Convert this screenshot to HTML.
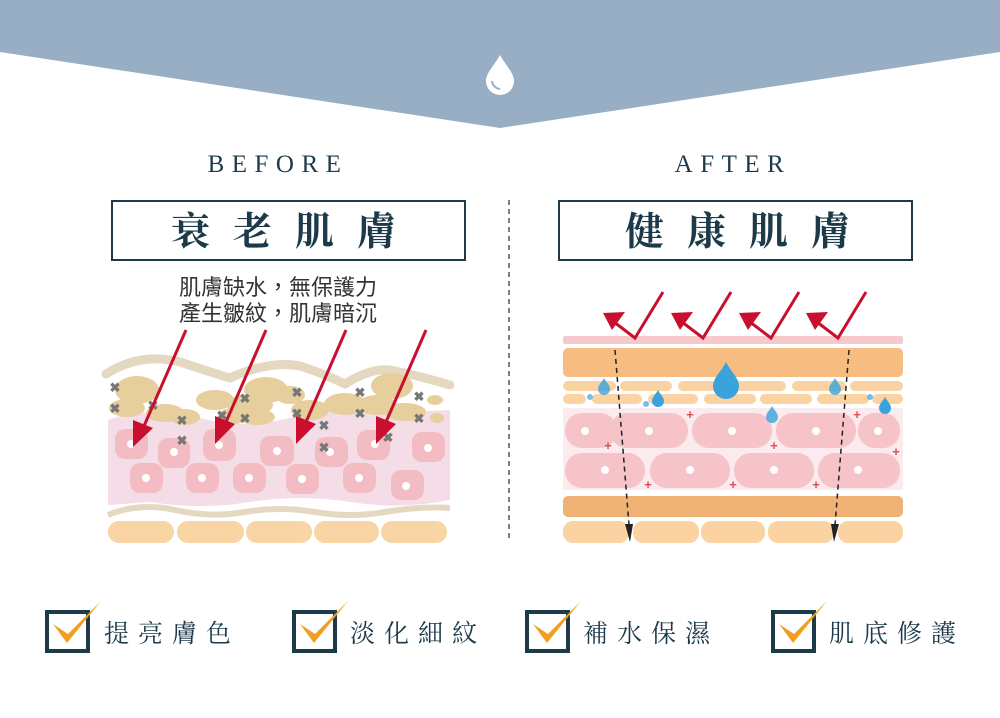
<!DOCTYPE html>
<html><head><meta charset="utf-8"><style>
body{margin:0;background:#fff}
svg{display:block}
.ser{font-family:"Liberation Serif","Noto Serif CJK SC",serif}
.san{font-family:"Liberation Sans","Noto Sans CJK TC",sans-serif}
</style></head><body>
<svg width="1000" height="718" viewBox="0 0 1000 718" xmlns="http://www.w3.org/2000/svg">
<polygon points="0,0 1000,0 1000,52 500,128 0,52" fill="#97aec5"/>
<path d="M500,55 C494,66 486,73 486,81 A14,14 0 0 0 514,81 C514,73 506,66 500,55Z" fill="#fff"/>
<path d="M492,81 A9,9 0 0 0 500,89" stroke="#97aec5" stroke-width="2" fill="none"/>

<text x="278" y="172" text-anchor="middle" class="ser" font-size="25" letter-spacing="7.5" fill="#1d3a4a">BEFORE</text>
<text x="733" y="172" text-anchor="middle" class="ser" font-size="25" letter-spacing="7.5" fill="#1d3a4a">AFTER</text>
<rect x="112" y="201" width="353" height="59" fill="none" stroke="#1d3a4a" stroke-width="2"/>
<rect x="559" y="201" width="353" height="59" fill="none" stroke="#1d3a4a" stroke-width="2"/>
<text x="295" y="245" text-anchor="middle" class="ser" font-size="39" font-weight="bold" letter-spacing="23" fill="#1d3a4a">衰老肌膚</text>
<text x="749" y="245" text-anchor="middle" class="ser" font-size="39" font-weight="bold" letter-spacing="23" fill="#1d3a4a">健康肌膚</text>
<line x1="509" y1="200" x2="509" y2="542" stroke="#555" stroke-width="1.5" stroke-dasharray="5,4"/>
<text x="278" y="295" text-anchor="middle" class="san" font-size="22" fill="#333">肌膚缺水，無保護力</text>
<text x="278" y="321" text-anchor="middle" class="san" font-size="22" fill="#333">產生皺紋，肌膚暗沉</text>

<!-- BEFORE diagram -->
<path d="M108,420 Q150,405 200,418 T300,415 T400,412 L450,410 L450,500 Q400,510 350,502 T250,502 T150,502 L108,505Z" fill="#f4dde6"/>
<path d="M106,374 Q140,352 180,362 Q210,372 230,378 Q270,360 300,366 Q320,372 345,384 Q370,368 390,370 Q420,376 450,385" stroke="#e5d8c0" stroke-width="9" fill="none" stroke-linecap="round"/>
<g fill="#e6cf9c">
<ellipse cx="137" cy="390" rx="22" ry="14"/><ellipse cx="127" cy="408" rx="18" ry="9"/><ellipse cx="165" cy="413" rx="19" ry="9"/>
<ellipse cx="185" cy="417" rx="15" ry="8"/><ellipse cx="215" cy="400" rx="19" ry="10"/><ellipse cx="250" cy="405" rx="23" ry="11"/>
<ellipse cx="266" cy="390" rx="22" ry="13"/><ellipse cx="257" cy="417" rx="18" ry="8"/><ellipse cx="233" cy="416" rx="15" ry="8"/>
<ellipse cx="290" cy="395" rx="15" ry="9"/><ellipse cx="310" cy="410" rx="19" ry="10"/><ellipse cx="345" cy="404" rx="21" ry="11"/>
<ellipse cx="377" cy="405" rx="19" ry="10"/><ellipse cx="392" cy="386" rx="21" ry="13"/><ellipse cx="405" cy="412" rx="21" ry="9"/>
<ellipse cx="435" cy="400" rx="8" ry="5"/><ellipse cx="437" cy="418" rx="7" ry="5"/>
</g>
<g fill="#f3bcc3">
<rect x="115" y="429" width="33" height="30" rx="10"/><rect x="158" y="438" width="32" height="30" rx="10"/><rect x="203" y="429" width="33" height="32" rx="10"/>
<rect x="260" y="436" width="34" height="30" rx="10"/><rect x="315" y="437" width="33" height="30" rx="10"/><rect x="357" y="430" width="33" height="30" rx="10"/><rect x="412" y="432" width="33" height="30" rx="10"/>
<rect x="130" y="463" width="33" height="30" rx="10"/><rect x="186" y="463" width="33" height="30" rx="10"/><rect x="233" y="463" width="33" height="30" rx="10"/>
<rect x="286" y="464" width="33" height="30" rx="10"/><rect x="343" y="463" width="33" height="30" rx="10"/><rect x="391" y="470" width="33" height="30" rx="10"/>
</g>
<g fill="#fff">
<circle cx="131" cy="444" r="4"/><circle cx="174" cy="452" r="4"/><circle cx="219" cy="445" r="4"/><circle cx="277" cy="451" r="4"/><circle cx="330" cy="452" r="4"/><circle cx="375" cy="444" r="4"/><circle cx="428" cy="448" r="4"/>
<circle cx="146" cy="478" r="4"/><circle cx="202" cy="478" r="4"/><circle cx="249" cy="478" r="4"/><circle cx="302" cy="479" r="4"/><circle cx="359" cy="478" r="4"/><circle cx="406" cy="486" r="4"/>
</g>
<g class="san" font-size="13" font-weight="bold" fill="#777" text-anchor="middle">
<text x="115" y="392">✖</text><text x="115" y="413">✖</text><text x="153" y="410">✖</text><text x="182" y="425">✖</text><text x="182" y="445">✖</text>
<text x="222" y="420">✖</text><text x="245" y="403">✖</text><text x="245" y="423">✖</text><text x="297" y="397">✖</text><text x="297" y="418">✖</text>
<text x="324" y="430">✖</text><text x="324" y="452">✖</text><text x="360" y="397">✖</text><text x="360" y="418">✖</text><text x="419" y="401">✖</text><text x="419" y="423">✖</text><text x="388" y="442">✖</text>
</g>
<path d="M108,515 Q140,502 175,510 T245,512 T315,512 T385,512 T450,508" stroke="#e5d8c0" stroke-width="6" fill="none"/>
<g fill="#f9d4a4">
<rect x="108" y="521" width="66" height="22" rx="11"/><rect x="177" y="521" width="67" height="22" rx="11"/><rect x="246" y="521" width="66" height="22" rx="11"/><rect x="314" y="521" width="65" height="22" rx="11"/><rect x="381" y="521" width="66" height="22" rx="11"/>
</g>
<g fill="#c8102e" stroke="#c8102e">
<line x1="186" y1="330" x2="144" y2="426" stroke-width="3"/><polygon points="133,447 133,420 153,428" stroke="none"/>
<line x1="266" y1="330" x2="226" y2="422" stroke-width="3"/><polygon points="215,444 215,416 235,424" stroke="none"/>
<line x1="346" y1="330" x2="306" y2="422" stroke-width="3"/><polygon points="296,444 296,416 316,424" stroke="none"/>
<line x1="426" y1="330" x2="386" y2="422" stroke-width="3"/><polygon points="376,444 376,416 396,424" stroke="none"/>
</g>

<!-- AFTER diagram -->
<rect x="563" y="336" width="340" height="8" rx="2" fill="#f6c9cc"/>
<rect x="563" y="348" width="340" height="29" rx="5" fill="#f7bd80"/>
<g fill="#fbd3a3">
<rect x="563" y="381" width="53" height="10" rx="5"/><rect x="620" y="381" width="52" height="10" rx="5"/><rect x="678" y="381" width="108" height="10" rx="5"/><rect x="792" y="381" width="54" height="10" rx="5"/><rect x="850" y="381" width="53" height="10" rx="5"/>
<rect x="563" y="394" width="23" height="10" rx="5"/><rect x="592" y="394" width="50" height="10" rx="5"/><rect x="648" y="394" width="50" height="10" rx="5"/><rect x="704" y="394" width="52" height="10" rx="5"/><rect x="760" y="394" width="52" height="10" rx="5"/><rect x="817" y="394" width="52" height="10" rx="5"/><rect x="872" y="394" width="31" height="10" rx="5"/>
</g>
<rect x="563" y="408" width="340" height="82" fill="#fbeaee"/>
<g fill="#f5c3c8">
<rect x="565" y="413" width="52" height="35" rx="17"/><rect x="610" y="413" width="78" height="35" rx="17"/><rect x="692" y="413" width="80" height="35" rx="17"/><rect x="776" y="413" width="80" height="35" rx="17"/><rect x="858" y="413" width="42" height="35" rx="17"/>
<rect x="565" y="453" width="80" height="35" rx="17"/><rect x="650" y="453" width="80" height="35" rx="17"/><rect x="734" y="453" width="80" height="35" rx="17"/><rect x="818" y="453" width="82" height="35" rx="17"/>
</g>
<g fill="#fff">
<circle cx="585" cy="431" r="4"/><circle cx="649" cy="431" r="4"/><circle cx="732" cy="431" r="4"/><circle cx="816" cy="431" r="4"/><circle cx="878" cy="431" r="4"/>
<circle cx="605" cy="470" r="4"/><circle cx="690" cy="470" r="4"/><circle cx="774" cy="470" r="4"/><circle cx="858" cy="470" r="4"/>
</g>
<g class="san" font-size="13" font-weight="bold" fill="#e05050" text-anchor="middle">
<text x="690" y="419">+</text><text x="608" y="450">+</text><text x="774" y="450">+</text><text x="857" y="419">+</text><text x="896" y="456">+</text>
<text x="648" y="489">+</text><text x="733" y="489">+</text><text x="816" y="489">+</text>
</g>
<rect x="563" y="496" width="340" height="21" rx="5" fill="#f0b274"/>
<g fill="#fbd3a3">
<rect x="563" y="521" width="66" height="22" rx="10"/><rect x="633" y="521" width="66" height="22" rx="10"/><rect x="701" y="521" width="64" height="22" rx="10"/><rect x="768" y="521" width="66" height="22" rx="10"/><rect x="838" y="521" width="65" height="22" rx="10"/>
</g>
<g fill="#3aa3dc">
<path d="M726,362 C721,372 713,378 713,386 A13,13 0 0 0 739,386 C739,378 731,372 726,362Z"/>
<path d="M604,378 C602,382 598,385 598,389 A6,6 0 0 0 610,389 C610,385 606,382 604,378Z" opacity=".8"/>
<path d="M658,390 C656,394 652,397 652,401 A6,6 0 0 0 664,401 C664,397 660,394 658,390Z"/>
<path d="M835,378 C833,382 829,385 829,389 A6,6 0 0 0 841,389 C841,385 837,382 835,378Z" opacity=".8"/>
<path d="M772,406 C770,410 766,413 766,417 A6,6 0 0 0 778,417 C778,413 774,410 772,406Z" opacity=".8"/>
<path d="M885,397 C883,401 879,404 879,408 A6,6 0 0 0 891,408 C891,404 887,401 885,397Z"/>
<circle cx="590" cy="397" r="3" opacity=".7"/><circle cx="646" cy="404" r="3" opacity=".7"/><circle cx="870" cy="397" r="3" opacity=".7"/>
</g>
<g stroke="#c8102e" stroke-width="3" fill="none">
<polyline points="663,292 635,338 614,322"/><polyline points="731,292 703,338 682,322"/><polyline points="799,292 771,338 750,322"/><polyline points="866,292 838,338 817,322"/>
</g>
<g fill="#c8102e">
<polygon points="603,313 625,312 612,330"/><polygon points="671,313 693,312 680,330"/><polygon points="739,313 761,312 748,330"/><polygon points="806,313 828,312 815,330"/>
</g>
<g stroke="#222" stroke-width="1.5" stroke-dasharray="5,4">
<line x1="615" y1="350" x2="629" y2="525"/><line x1="849" y1="350" x2="835" y2="525"/>
</g>
<polygon points="625,524 633,524 630,542" fill="#222"/><polygon points="831,524 839,524 834,542" fill="#222"/>

<!-- checks -->
<g stroke="#1d3a4a" stroke-width="4" fill="none">
<rect x="47" y="612" width="41" height="39"/><rect x="294" y="612" width="41" height="39"/><rect x="527" y="612" width="41" height="39"/><rect x="773" y="612" width="41" height="39"/>
</g>
<g fill="#f0a020">
<path d="M53,624 L67,643 L101,601 L68,634 Z"/><path d="M300,624 L314,643 L348,601 L315,634 Z"/><path d="M533,624 L547,643 L581,601 L548,634 Z"/><path d="M779,624 L793,643 L827,601 L794,634 Z"/>
</g>
<g class="ser" font-size="25" letter-spacing="9" fill="#1d3a4a">
<text x="104" y="642">提亮膚色</text><text x="350" y="642">淡化細紋</text><text x="583" y="642">補水保濕</text><text x="829" y="642">肌底修護</text>
</g>
</svg>
</body></html>
